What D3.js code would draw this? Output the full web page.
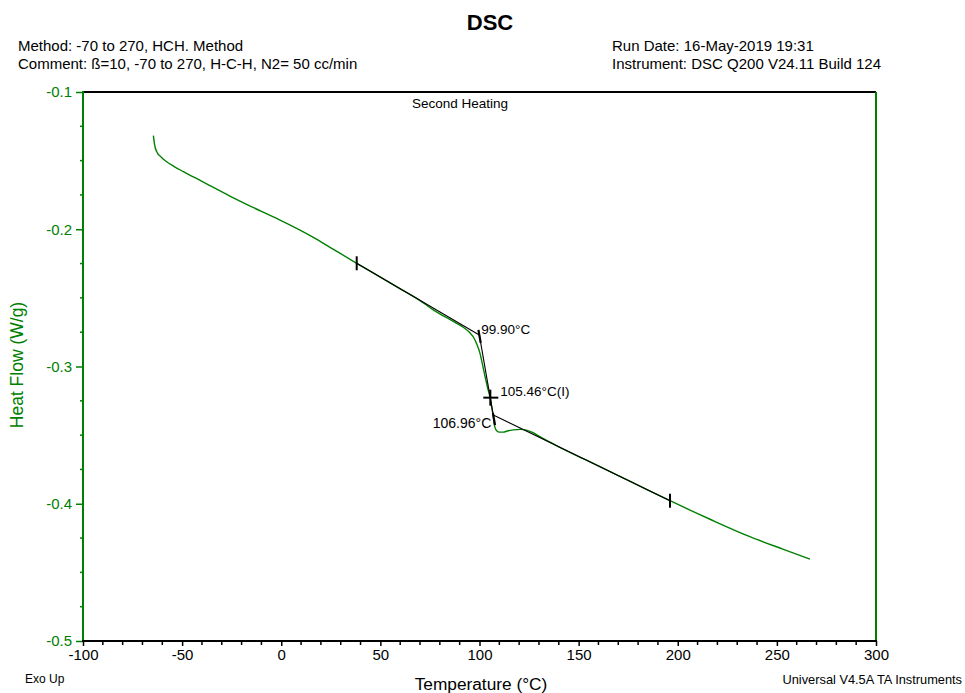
<!DOCTYPE html>
<html>
<head>
<meta charset="utf-8">
<script src="https://cdn.jsdelivr.net/npm/d3@7"></script>
<style>
  body { margin: 0; background: #fff; }
  svg { font-family: "Liberation Sans", Arial, sans-serif; }
</style>
</head>
<body>
<svg width="965" height="693"></svg>
<script>
// temperature (°C) and heat flow (W/g)
let temperature = [-64.5, -63.8, -62.8, -60.5, -57.8, -54, -49.4, -40, -25.9, -10, -0.6, 16.2, 25, 38.06,
    50, 60, 70, 75, 80, 85, 88, 91.8, 95, 96.9, 98.5, 100.25, 101.5, 102.8, 104, 105.3, 106.2, 106.96,
    107.5, 108, 108.8, 110, 112, 114, 117, 120.5, 124, 127, 130, 135, 140, 154, 170, 185, 196.1,
    216.3, 236.4, 253.3, 266.7];
let heatFlow = [-0.1318, -0.1390, -0.1435, -0.1475, -0.1508, -0.1543, -0.1580, -0.1651, -0.1758, -0.1870, -0.1933, -0.2059, -0.2135, -0.2248,
    -0.2349, -0.2434, -0.2520, -0.2570, -0.2617, -0.2657, -0.2682, -0.2714, -0.2752, -0.2785, -0.2832, -0.2904, -0.2985, -0.3074, -0.3150, -0.3225, -0.3300, -0.3366,
    -0.3425, -0.3452, -0.3470, -0.3478, -0.3478, -0.3470, -0.3462, -0.3458, -0.3465, -0.3482, -0.3508, -0.3548, -0.3585, -0.3683, -0.3795, -0.3900, -0.3978,
    -0.4113, -0.4240, -0.4332, -0.4403];

// glass transition analysis
let baselineStart = [38.06, -0.2248];
let onsetPoint = [99.90, -0.2770];
let inflectionPoint = [105.46, -0.3227];
let endPoint = [106.96, -0.3354];
let baselineEnd = [196.1, -0.3978];
let onsetLabel = "99.90°C";
let inflectionLabel = "105.46°C(I)";
let endLabel = "106.96°C";

let xTicks = [-100, -50, 0, 50, 100, 150, 200, 250, 300];
let yTicks = [-0.1, -0.2, -0.3, -0.4, -0.5];

let green = "#008000";
let svg = d3.select("svg");

let x = d3.scaleLinear().domain([-100, 300]).range([83, 876]);
let y = d3.scaleLinear().domain([-0.5, -0.1]).range([641, 92]);

// header texts
svg.append("text").attr("x", 490).attr("y", 30).attr("text-anchor", "middle")
    .attr("font-size", 22).attr("font-weight", "bold").text("DSC");
svg.append("text").attr("x", 18).attr("y", 51).attr("font-size", 15).text("Method: -70 to 270, HCH. Method");
svg.append("text").attr("x", 18).attr("y", 69).attr("font-size", 15).text("Comment: ß=10, -70 to 270, H-C-H, N2= 50 cc/min");
svg.append("text").attr("x", 612).attr("y", 51).attr("font-size", 15).text("Run Date: 16-May-2019 19:31");
svg.append("text").attr("x", 612).attr("y", 69).attr("font-size", 15).text("Instrument: DSC Q200 V24.11 Build 124");

let hyphen = f => (d => f(d).replace("\u2212", "-"));

// axes
let xAxis = d3.axisBottom(x).tickValues(xTicks).tickSize(5).tickPadding(3).tickFormat(hyphen(d3.format("d")));
let gx = svg.append("g").attr("transform", "translate(0,641)").call(xAxis);
gx.select(".domain").remove();
gx.selectAll("text").attr("font-size", 15).attr("font-family", "Liberation Sans, Arial, sans-serif").attr("fill", "#000");
gx.selectAll("line").attr("stroke", "#000").attr("stroke-width", 1.5);

let xMinor = d3.range(-100, 301, 10).filter(v => v % 50 != 0);
svg.append("g").selectAll("line").data(xMinor).enter().append("line")
    .attr("x1", d => x(d)).attr("x2", d => x(d)).attr("y1", 641).attr("y2", 645)
    .attr("stroke", "#000").attr("stroke-width", 1.5);

let yAxis = d3.axisLeft(y).tickValues(yTicks).tickSize(7).tickPadding(4).tickFormat(hyphen(d3.format(".1f")));
let gy = svg.append("g").attr("transform", "translate(83,0)").call(yAxis);
gy.select(".domain").remove();
gy.selectAll("text").attr("font-size", 15).attr("font-family", "Liberation Sans, Arial, sans-serif").attr("fill", green);
gy.selectAll("line").attr("stroke", green).attr("stroke-width", 1.5);

let yMinor = d3.range(0, 17).map(i => -0.5 + i * 0.025).filter((v, i) => i % 4 != 0);
svg.append("g").selectAll("line").data(yMinor).enter().append("line")
    .attr("x1", 80).attr("x2", 83).attr("y1", d => y(d)).attr("y2", d => y(d))
    .attr("stroke", green).attr("stroke-width", 1.5);

// frame
svg.append("line").attr("x1", 83).attr("x2", 876).attr("y1", 92).attr("y2", 92).attr("stroke", "#000").attr("stroke-width", 2);
svg.append("line").attr("x1", 876).attr("x2", 876).attr("y1", 92).attr("y2", 641).attr("stroke", green).attr("stroke-width", 2);
svg.append("line").attr("x1", 83).attr("x2", 83).attr("y1", 91).attr("y2", 641).attr("stroke", green).attr("stroke-width", 2);
svg.append("line").attr("x1", 82).attr("x2", 877).attr("y1", 641).attr("y2", 641).attr("stroke", "#000").attr("stroke-width", 2);

// axis titles and notes
svg.append("text").attr("x", 481).attr("y", 690).attr("text-anchor", "middle").attr("font-size", 17.3).text("Temperature (°C)");
svg.append("text").attr("transform", "translate(23,365)rotate(-90)").attr("text-anchor", "middle")
    .attr("font-size", 17.5).attr("fill", green).text("Heat Flow (W/g)");
svg.append("text").attr("x", 25).attr("y", 683).attr("font-size", 12).text("Exo Up");
svg.append("text").attr("x", 962).attr("y", 684).attr("text-anchor", "end").attr("font-size", 12.8).text("Universal V4.5A TA Instruments");
svg.append("text").attr("x", 460).attr("y", 108).attr("text-anchor", "middle").attr("font-size", 13.5).text("Second Heating");

// trace
let pts = temperature.map((t, i) => [t, heatFlow[i]]);
let line = d3.line().x(d => x(d[0])).y(d => y(d[1])).curve(d3.curveMonotoneX);
svg.append("path").datum(pts).attr("d", line).attr("fill", "none").attr("stroke", green).attr("stroke-width", 1.4);

// tangent lines
let seg = d3.line().x(d => x(d[0])).y(d => y(d[1]));
[[baselineStart, onsetPoint], [onsetPoint, endPoint], [endPoint, baselineEnd]].forEach(s => {
    svg.append("path").attr("d", seg(s)).attr("fill", "none").attr("stroke", "#000").attr("stroke-width", 1.1);
});

// vertical markers at baseline limits
[baselineStart, baselineEnd].forEach(p => {
    svg.append("line").attr("x1", x(p[0])).attr("x2", x(p[0]))
        .attr("y1", y(p[1]) - 7).attr("y2", y(p[1]) + 7).attr("stroke", "#000").attr("stroke-width", 2);
});

// thick marks along steep tangent at onset and end
let dxs = x(endPoint[0]) - x(onsetPoint[0]), dys = y(endPoint[1]) - y(onsetPoint[1]);
let k = dxs / dys;
svg.append("line").attr("x1", x(onsetPoint[0]) - 5 * k).attr("y1", y(onsetPoint[1]) - 5)
    .attr("x2", x(onsetPoint[0]) + 8 * k).attr("y2", y(onsetPoint[1]) + 8).attr("stroke", "#000").attr("stroke-width", 2.2);
svg.append("line").attr("x1", x(endPoint[0]) - 2 * k).attr("y1", y(endPoint[1]) - 2)
    .attr("x2", x(endPoint[0]) + 10 * k).attr("y2", y(endPoint[1]) + 10).attr("stroke", "#000").attr("stroke-width", 2.2);

// inflection cross
let ix = x(inflectionPoint[0]), iy = y(inflectionPoint[1]);
svg.append("line").attr("x1", ix - 7).attr("x2", ix + 8).attr("y1", iy).attr("y2", iy).attr("stroke", "#000").attr("stroke-width", 2);
svg.append("line").attr("x1", ix).attr("x2", ix).attr("y1", iy - 8).attr("y2", iy + 8).attr("stroke", "#000").attr("stroke-width", 2);

// labels
svg.append("text").attr("x", x(onsetPoint[0]) + 2).attr("y", y(onsetPoint[1]) - 1).attr("font-size", 13.5).text(onsetLabel);
svg.append("text").attr("x", ix + 10).attr("y", iy - 2).attr("font-size", 13.5).text(inflectionLabel);
svg.append("text").attr("x", x(endPoint[0]) - 2).attr("y", y(endPoint[1]) + 13).attr("text-anchor", "end").attr("font-size", 14).text(endLabel);
</script>
</body>
</html>
